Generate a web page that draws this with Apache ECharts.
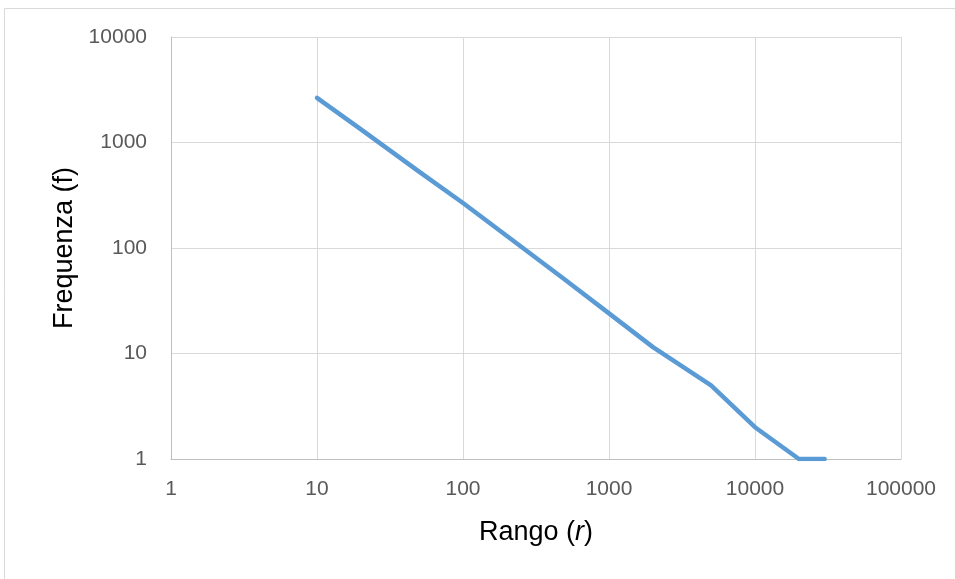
<!DOCTYPE html>
<html>
<head>
<meta charset="utf-8">
<script src="https://cdn.jsdelivr.net/npm/echarts@6/dist/echarts.min.js"></script>
<style>html,body{margin:0;padding:0;background:#fff;}#c{width:955px;height:579px;}</style>
</head>
<body>
<div id="c"></div>
<script>
var rango = [10, 20, 50, 100, 200, 500, 1000, 2000, 5000, 10000, 20000, 30000];
var frequenza = [2650, 1330, 530, 267, 130, 50, 24, 11.5, 5, 2, 1, 1];
var xTicks = [1, 10, 100, 1000, 10000, 100000];
var yTicks = [1, 10, 100, 1000, 10000];

var pts = rango.map(function (r, i) { return [r, frequenza[i]]; });
var chart = echarts.init(document.getElementById('c'));
var fontFam = '"Liberation Sans", Arial, sans-serif';
chart.setOption({
  animation: false,
  backgroundColor: '#fff',
  graphic: [{
    type: 'rect',
    shape: { x: 4.5, y: 8.5, width: 1200, height: 1200 },
    style: { fill: 'none', stroke: '#d9d9d9', lineWidth: 1 },
    silent: true
  }],
  grid: { left: 171, top: 37, right: 54, bottom: 120 },
  xAxis: {
    type: 'log', logBase: 10, min: xTicks[0], max: xTicks[xTicks.length - 1],
    name: '{n|Rango (}{i|r}{n|)}',
    nameLocation: 'middle', nameGap: 60,
    nameTextStyle: {
      rich: {
        n: { fontSize: 27, color: '#000', fontFamily: fontFam },
        i: { fontSize: 27, color: '#000', fontFamily: fontFam, fontStyle: 'italic' }
      }
    },
    axisLine: { lineStyle: { color: '#bfbfbf', width: 1 } },
    axisTick: { show: false },
    splitLine: { show: true, lineStyle: { color: '#d9d9d9', width: 1 } },
    axisLabel: {
      color: '#595959', fontSize: 21, fontFamily: fontFam, margin: 20,
      formatter: function (v) { return String(Math.round(v)); }
    }
  },
  yAxis: {
    type: 'log', logBase: 10, min: yTicks[0], max: yTicks[yTicks.length - 1],
    name: 'Frequenza (f)',
    nameLocation: 'middle', nameGap: 92, nameRotate: 90,
    nameTextStyle: { fontSize: 27, color: '#000', fontFamily: fontFam },
    axisLine: { show: true, lineStyle: { color: '#bfbfbf', width: 1 } },
    axisTick: { show: false },
    splitLine: { show: true, lineStyle: { color: '#d9d9d9', width: 1 } },
    axisLabel: {
      color: '#595959', fontSize: 21, fontFamily: fontFam, margin: 24,
      formatter: function (v) { return String(Math.round(v)); }
    }
  },
  series: [{
    type: 'line',
    data: pts,
    showSymbol: false,
    symbol: 'none',
    lineStyle: { color: '#5b9bd5', width: 4.5, cap: 'round', join: 'round' }
  }]
});
</script>
</body>
</html>
